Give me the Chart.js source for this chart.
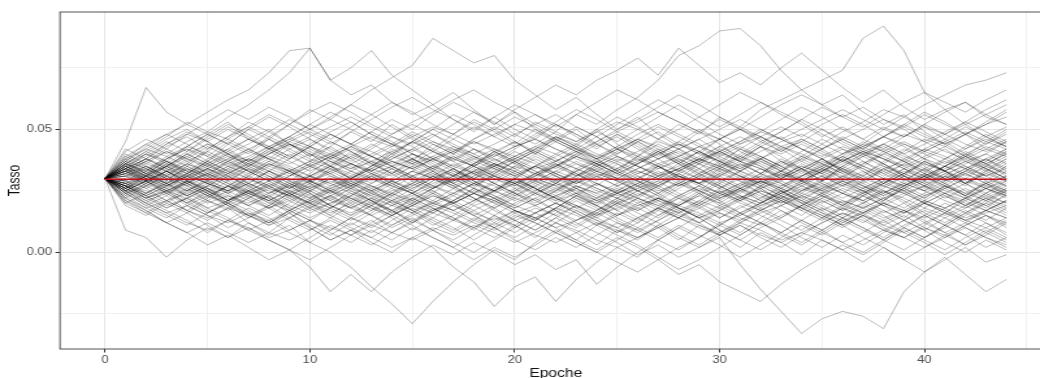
<!DOCTYPE html>
<html>
<head>
<meta charset="utf-8">
<script src="https://cdn.jsdelivr.net/npm/chart.js@4.4.1/dist/chart.umd.min.js"></script>
<style>
  html, body { margin: 0; padding: 0; background: #fff; overflow: hidden; }
  /* the reference is stretched sideways, so the canvas is too */
  #wrap { width: 812px; height: 378px; transform: scaleX(1.3); transform-origin: 0 0; }
</style>
</head>
<body>
<div id="wrap"><canvas id="chart" width="812" height="378"></canvas></div>
<script>
// x values
const epochs = [0,1,2,3,4,5,6,7,8,9,10,11,12,13,14,15,16,17,18,19,20,21,22,23,24,25,26,27,28,29,30,31,32,33,34,35,36,37,38,39,40,41,42,43,44];

// simulated rate paths, in thousandths (30 = 0.030)
const paths = [
  [30,35,31,38,42,37,44,40,46,41,37,43,49,45,52,47,42,48,54,50,45,40,47,43,50,44,39,46,52,48,55,51,58,62,66,70,74,87,92,82,65,58,61,55,52],
  [30,26,31,28,34,30,25,31,36,33,28,34,39,35,41,37,44,40,46,51,47,53,49,56,52,58,63,70,80,84,90,91,84,74,66,60,64,57,52,56,49,44,48,42,46],
  [30,45,67,57,52,48,53,46,50,44,39,45,41,36,42,38,33,39,35,41,37,31,36,32,27,33,29,35,30,25,31,36,32,38,34,29,35,40,36,31,37,33,28,34,30],
  [30,38,44,48,52,57,62,66,73,82,83,70,64,68,61,56,60,54,49,55,50,46,52,47,42,48,44,39,45,41,36,42,38,33,39,35,30,36,41,37,32,38,34,29,35],
  [30,36,41,37,43,48,44,50,46,52,58,54,60,66,71,76,87,82,77,80,70,64,58,63,56,50,55,48,43,49,44,38,43,37,32,38,33,28,34,30,25,31,27,33,29],
  [30,24,19,23,17,13,18,12,7,11,4,0,-6,-14,-21,-29,-20,-12,-5,1,-3,4,9,5,11,16,12,18,14,20,25,21,27,23,29,24,19,25,21,27,32,28,23,29,25],
  [30,25,29,24,20,25,21,27,23,18,24,19,15,21,17,12,18,14,9,15,11,6,12,8,3,9,5,11,6,2,6,-5,-15,-24,-33,-27,-24,-26,-31,-16,-8,-3,2,-4,-1],
  [30,27,22,26,21,16,20,15,11,16,10,5,9,4,0,6,2,-6,-12,-22,-14,-10,-20,-11,-4,2,-2,5,10,6,12,8,14,19,15,21,17,23,19,14,20,16,22,18,24],
  [30,33,28,24,29,25,31,27,22,28,24,19,25,21,16,22,18,13,19,15,10,16,12,17,13,8,14,10,5,11,7,2,8,4,-1,5,1,-4,2,-3,-8,-2,-9,-16,-11],
  [30,9,6,-2,5,10,6,12,8,14,19,15,21,17,23,28,24,30,26,32,37,33,28,34,30,36,31,26,32,28,34,39,35,30,36,32,38,33,28,34,29,35,40,36,31],
  [30,36,33,39,35,41,46,42,38,44,40,35,41,37,32,38,34,40,45,41,36,42,47,43,38,33,39,35,30,36,41,37,43,39,34,29,35,31,37,42,38,33,39,35,41],
  [30,27,22,25,20,16,21,26,22,17,13,18,23,19,24,29,33,28,24,20,25,30,27,31,36,32,27,23,28,24,19,15,20,25,21,26,31,28,24,29,34,30,25,21,26],
  [30,34,40,45,41,47,52,48,43,39,44,49,53,48,44,38,34,29,33,28,24,29,25,31,36,40,45,49,44,40,46,51,47,42,37,33,38,43,47,52,48,44,39,45,50],
  [30,23,18,14,19,15,10,14,19,24,20,15,11,16,21,17,12,8,13,18,22,27,23,19,14,10,6,11,16,12,17,22,26,21,17,13,18,14,9,13,18,23,19,15,11],
  [30,32,37,33,28,24,29,34,31,27,32,38,43,39,35,30,26,31,36,41,37,33,29,24,20,25,30,35,31,27,22,26,31,36,41,46,42,37,33,29,34,38,43,48,44],
  [30,28,33,38,43,48,44,50,55,51,46,41,37,42,47,43,38,34,29,25,30,26,21,26,31,27,23,28,33,38,43,39,44,49,54,50,45,41,36,32,37,33,28,24,20],
  [30,25,29,34,30,25,20,16,12,17,13,9,14,19,24,28,33,29,34,30,26,21,17,22,18,13,9,5,10,15,11,16,20,25,21,17,12,16,21,26,22,27,32,28,23],
  [30,39,35,31,36,42,47,53,49,44,40,35,30,34,39,45,50,56,52,47,43,48,53,58,54,49,45,40,36,41,37,32,28,33,38,34,39,44,50,55,51,46,42,47,43],
  [30,31,26,21,17,22,27,23,28,24,29,25,20,15,19,24,29,34,30,35,31,26,22,18,14,19,24,20,16,21,26,31,27,23,18,14,10,15,20,17,13,8,12,17,21],
  [30,34,29,35,40,36,31,26,31,27,22,18,23,28,33,29,25,20,24,29,35,40,45,41,36,41,46,51,47,43,38,34,39,35,30,25,29,25,20,16,21,26,30,35,39],
  [30,20,24,28,23,18,14,9,13,8,4,9,14,10,15,11,6,2,7,12,17,13,18,23,19,14,10,15,20,25,21,16,12,8,13,9,4,8,13,17,12,8,3,7,12],
  [30,41,46,42,48,53,58,54,59,55,50,46,51,56,61,57,52,48,53,49,44,50,46,42,47,52,57,62,58,53,48,44,49,54,59,55,50,46,51,47,52,57,61,56,60],
  [30,28,24,29,35,31,37,33,29,25,21,26,22,18,14,9,14,10,5,10,15,12,8,4,0,5,10,6,11,7,3,-2,3,8,4,9,14,19,15,10,6,11,7,2,6],
  [30,33,38,34,39,44,40,35,40,45,49,45,41,36,32,27,31,36,32,28,33,38,34,39,44,48,43,38,42,46,41,37,32,37,33,28,24,29,34,30,26,31,36,40,45],
  [30,26,31,27,32,28,24,19,15,20,25,21,26,31,27,33,38,34,29,25,30,35,31,26,22,17,13,18,14,19,24,28,24,20,25,30,34,29,25,20,15,11,16,20,25],
  [30,37,32,28,23,27,32,37,42,38,43,48,44,39,35,40,36,31,27,32,37,41,46,51,47,42,37,41,36,31,35,40,45,41,46,42,37,42,47,52,57,53,48,53,58],
  [30,24,28,33,29,24,20,25,21,16,11,7,12,8,13,18,14,19,15,10,6,11,16,21,17,22,27,23,18,14,9,5,1,6,11,7,12,17,13,8,4,-1,4,9,5],
  [30,35,40,36,32,37,33,38,43,47,52,57,53,48,44,49,45,41,46,50,55,51,46,42,38,33,37,42,38,34,29,33,38,43,39,44,49,53,58,55,60,64,68,70,73],
  [30,29,34,30,26,21,25,30,26,31,36,32,27,23,28,24,19,23,28,33,29,25,30,26,21,17,22,27,32,28,33,29,24,20,24,29,25,21,26,31,27,32,28,23,27],
  [30,22,27,23,29,34,30,25,21,26,31,35,30,26,22,17,13,9,14,10,5,1,6,2,7,12,8,13,18,14,9,5,10,14,19,15,11,6,2,-3,2,7,3,8,4],
  [30,36,41,46,50,45,40,44,49,54,50,55,60,56,51,46,41,37,42,38,34,39,35,40,45,50,54,59,64,60,55,50,46,41,45,50,46,42,47,51,56,52,48,44,49],
  [30,27,31,35,30,34,38,33,29,34,29,25,30,35,40,36,41,37,32,28,24,20,25,30,35,31,36,41,37,32,27,22,26,21,17,22,18,23,28,32,28,24,19,24,29],
  [30,19,15,20,16,21,17,22,27,23,18,14,10,6,11,16,21,26,22,17,13,9,14,19,15,20,16,12,7,3,8,13,18,23,19,24,20,16,11,15,10,6,11,15,10],
  [30,33,29,33,38,43,39,34,30,26,30,35,39,44,40,45,50,46,42,37,42,47,52,48,44,39,35,31,36,32,37,42,47,51,47,52,56,52,47,43,38,42,37,33,38],
  [30,25,20,25,29,25,21,17,12,17,22,27,31,27,23,19,24,20,15,11,16,12,8,13,17,22,18,14,19,24,29,25,21,17,12,8,13,9,5,10,15,20,16,21,17],
  [30,38,34,29,35,31,27,32,37,42,46,42,38,43,48,52,48,43,39,34,30,35,40,44,49,45,50,55,60,55,51,56,61,57,53,48,44,40,36,41,46,43,48,52,57],
  [30,32,27,32,28,33,29,24,28,24,19,23,19,24,29,25,31,27,22,18,23,28,24,29,34,30,25,21,26,30,26,22,27,32,28,33,38,34,30,26,31,27,23,28,33],
  [30,26,21,17,13,8,13,9,5,1,6,11,7,12,17,22,18,14,10,15,20,24,20,16,11,7,3,-2,-7,-3,2,7,12,8,13,18,14,10,5,1,6,10,15,20,16],
  [30,40,36,41,37,32,37,42,38,33,29,34,30,35,40,45,41,46,51,47,52,56,52,48,43,47,42,38,33,37,41,45,50,46,42,38,33,37,32,36,41,45,40,44,48],
  [30,29,24,20,25,30,35,31,36,32,28,24,29,25,20,16,11,15,20,25,30,26,22,27,23,19,14,18,23,27,32,36,32,28,23,19,15,20,25,21,16,12,17,13,18],
  [30,34,30,26,31,36,32,28,33,29,34,39,35,30,26,21,26,31,36,32,28,23,28,33,29,34,39,44,40,36,31,27,32,37,34,29,34,39,44,40,35,30,34,38,33],
  [30,21,17,12,16,11,6,10,5,1,-3,2,7,3,8,13,9,4,0,5,10,14,10,5,1,6,2,-3,2,6,11,16,12,7,3,8,4,0,5,10,6,11,16,12,7],
  [30,37,43,48,44,39,45,41,47,52,48,44,49,54,59,63,58,54,50,55,60,56,51,56,61,66,62,57,53,49,54,50,45,49,54,59,55,51,56,61,65,61,57,62,66],
  [30,31,35,31,27,23,27,22,18,23,28,33,29,25,21,26,30,26,31,36,41,37,32,28,33,29,25,29,24,20,25,21,17,22,27,31,27,32,36,31,27,23,19,24,28],
  [30,24,19,15,11,16,20,15,19,24,20,25,21,26,30,35,31,27,22,18,13,9,14,10,15,20,25,21,17,12,7,12,17,13,9,14,19,24,29,25,20,16,21,26,22],
  [30,35,31,36,41,46,51,47,42,38,43,38,34,39,43,48,44,40,36,41,45,41,37,42,38,43,48,52,48,44,39,35,30,26,31,35,40,45,41,37,42,46,51,47,43],
  [30,28,23,27,31,26,21,25,20,24,28,23,18,22,17,12,16,21,17,12,8,13,18,23,28,24,20,15,19,24,20,25,29,25,20,16,11,15,10,6,11,16,12,8,13],
  [30,33,37,42,38,34,30,35,31,26,31,36,40,36,32,37,33,28,33,38,34,30,35,40,36,32,36,41,45,50,46,41,37,33,37,42,47,43,39,35,31,35,40,36,32],
  [30,26,30,25,20,24,19,14,18,13,9,14,19,15,10,14,9,5,10,6,11,16,20,16,12,8,12,17,22,18,14,19,15,11,6,2,7,3,8,13,9,4,0,5,1],
  [30,42,38,44,49,45,40,35,40,44,39,43,38,33,38,42,47,52,57,53,48,44,49,45,50,55,51,46,50,55,60,65,61,56,52,47,51,46,42,47,52,48,53,58,62],
  [30,30,35,30,25,29,34,30,35,40,35,31,27,32,28,24,29,33,29,24,28,32,28,33,37,33,29,24,29,25,21,26,22,27,31,36,32,27,23,27,31,26,22,27,31],
  [30,23,28,33,28,24,19,23,18,22,26,30,25,21,16,20,24,19,15,19,24,19,15,11,16,21,17,22,27,31,27,23,18,14,19,23,28,24,19,23,27,22,26,22,18],
  [30,36,32,37,33,29,24,28,33,38,43,48,44,49,45,40,35,39,35,40,45,40,36,31,35,30,34,38,42,37,42,38,43,47,42,38,33,29,33,38,34,29,33,37,41],
  [30,27,32,37,32,37,42,37,33,28,24,19,15,19,15,20,25,21,26,22,17,13,18,23,19,24,28,33,29,34,30,26,21,25,20,24,29,33,28,32,37,33,28,33,37],
  [30,20,16,21,26,22,27,23,19,14,10,5,9,13,8,12,17,21,26,22,18,22,17,12,8,4,-1,3,-2,2,7,11,6,2,7,12,16,12,17,13,9,14,10,6,2],
  [30,34,38,43,47,42,47,51,56,52,57,61,57,52,48,53,57,62,66,61,57,52,56,51,47,42,46,42,37,41,46,50,55,60,64,60,55,59,54,50,45,49,53,49,45],
  [30,29,33,28,32,37,33,28,24,29,25,30,26,21,17,21,26,30,35,31,27,32,36,32,28,24,28,24,19,23,28,33,37,33,29,25,30,26,22,26,30,35,39,34,30],
  [30,25,29,24,28,23,27,31,27,22,18,23,27,22,26,31,27,32,28,23,19,24,28,24,19,15,20,24,28,32,28,24,29,25,29,33,29,25,21,26,22,27,23,28,24],
  [30,35,30,35,39,35,40,36,41,37,33,37,33,29,34,30,35,31,36,40,36,32,37,41,37,42,38,34,38,34,39,43,39,35,31,35,39,35,40,44,40,36,41,37,42],
  [30,26,22,18,22,26,21,25,29,24,20,16,20,25,29,25,21,17,21,26,30,26,22,18,22,27,31,27,23,19,14,18,22,26,22,18,14,18,22,18,23,27,23,19,23],
  [30,37,42,47,53,49,55,60,66,73,83,70,75,82,72,66,60,65,58,52,57,50,45,50,44,40,45,41,36,41,37,33,38,34,29,34,39,35,31,36,32,28,33,38,34],
  [30,34,30,35,40,36,41,46,42,47,52,48,44,49,54,50,56,61,57,52,58,63,68,64,70,74,79,72,83,76,69,73,68,75,81,74,67,61,66,59,54,58,52,47,51],
  [30,22,17,12,8,3,7,2,-3,1,-6,-16,-9,-16,-8,-2,3,-1,4,0,-5,-1,-7,-3,-13,-6,0,5,1,6,11,7,12,17,13,9,14,10,6,11,15,11,7,12,8],
  [30,27,23,18,22,17,13,18,14,9,13,8,4,9,5,10,6,2,-3,2,-2,3,8,4,0,-4,-8,-3,-9,-5,-12,-16,-20,-13,-7,-2,3,-1,4,9,5,1,6,10,6],
  [30,33,27,31,36,32,29,34,38,35,31,28,33,37,34,30,26,29,33,30,27,31,35,39,36,32,29,25,28,32,36,33,29,26,30,34,31,27,24,28,32,29,33,30,27],
  [30,27,24,28,25,21,18,22,26,23,27,31,28,24,21,17,20,24,21,25,29,26,22,19,15,18,22,19,23,27,24,20,17,21,25,28,24,21,25,22,18,15,19,23,20],
  [30,34,38,35,40,44,41,37,42,46,43,39,36,40,44,41,45,42,38,35,39,43,40,36,33,37,41,45,42,38,41,45,49,46,42,39,43,40,44,48,45,41,38,42,39],
  [30,25,21,24,19,15,12,16,13,17,21,18,14,11,15,19,23,20,16,13,17,14,10,13,17,21,25,22,18,15,19,23,20,24,28,25,21,18,14,17,21,18,22,26,23],
  [30,32,29,33,30,34,31,27,30,26,29,33,36,32,28,31,35,32,28,25,28,32,35,31,34,38,35,31,27,30,34,30,26,29,33,37,34,30,27,31,28,32,35,31,34],
  [30,36,40,37,33,38,42,46,43,39,35,32,36,33,29,26,30,34,38,42,39,43,47,44,40,37,33,30,34,38,35,39,36,32,29,33,37,41,38,34,31,35,39,43,40],
  [30,26,29,25,22,26,23,20,24,28,25,21,18,22,19,16,20,17,21,25,22,19,23,27,24,20,23,27,31,28,24,21,25,22,18,22,26,23,19,16,20,24,21,17,14],
  [30,33,37,41,38,35,39,36,32,28,31,27,30,34,31,35,39,43,40,36,32,35,31,28,32,29,25,28,32,36,33,37,34,30,34,38,42,39,35,32,36,33,29,26,30],
  [30,28,32,29,25,29,33,30,26,23,27,24,28,32,35,31,27,24,28,25,21,25,29,32,28,24,27,31,34,30,27,23,20,24,28,31,27,24,28,32,29,25,22,26,29],
  [30,35,32,28,32,36,40,37,41,45,42,38,42,39,35,31,34,38,35,39,43,46,42,38,35,39,36,40,44,41,37,34,38,42,45,41,37,41,38,34,30,33,37,34,38],
  [30,24,20,16,19,23,19,15,12,16,20,17,13,17,21,24,20,17,13,10,14,18,15,19,16,12,9,13,17,21,18,14,11,15,19,23,19,16,20,24,20,17,13,16,19],
  [30,31,34,30,27,31,35,32,36,33,29,32,28,25,29,33,30,26,30,34,31,35,32,28,31,27,30,34,37,33,30,26,29,33,30,27,31,35,32,28,25,29,32,28,31],
  [30,37,34,38,42,39,35,38,34,31,35,39,43,47,44,40,37,41,45,42,38,34,37,41,38,42,46,43,39,36,40,37,41,45,48,44,40,43,47,44,41,45,49,45,42],
  [30,27,23,19,22,18,21,25,22,18,14,18,22,19,15,19,16,20,24,21,17,14,17,13,16,20,17,21,18,14,18,22,19,23,20,16,13,16,20,17,14,18,22,19,15],
  [30,34,31,27,31,28,32,36,33,29,26,30,27,31,35,38,34,31,27,31,35,32,29,33,37,34,30,27,31,28,24,28,32,29,25,29,33,30,34,37,33,30,34,31,27],
  [30,29,26,30,34,31,27,24,21,25,22,26,30,27,23,27,31,28,24,21,25,29,33,30,26,23,26,30,27,31,35,31,28,24,27,23,20,24,28,25,29,33,30,26,23],
  [30,36,33,37,34,30,34,38,35,32,36,40,36,33,37,34,30,27,31,35,39,36,32,29,33,30,34,38,41,37,34,38,35,31,35,32,36,40,43,39,36,33,37,40,36],
  [30,26,22,25,29,25,21,24,20,17,21,25,28,24,20,23,27,23,19,22,26,30,27,23,20,24,21,17,14,18,22,26,23,19,23,27,24,20,16,20,24,28,24,21,25],
  [30,32,36,33,29,32,28,25,29,33,37,40,36,32,29,33,30,34,30,27,23,27,31,27,24,28,32,35,31,28,32,29,26,30,34,38,34,31,35,31,27,24,28,32,36],
  [30,28,31,35,32,28,25,28,24,27,31,28,24,21,25,28,32,29,33,36,33,29,26,29,25,22,26,29,33,30,26,30,34,31,27,24,27,31,27,24,27,31,28,32,29],
  [30,34,29,25,28,32,28,24,27,23,20,23,27,31,27,24,28,31,35,31,28,24,21,24,28,25,29,26,22,19,23,26,30,33,29,26,22,26,30,27,31,27,24,28,25],
  [30,38,42,39,43,40,36,39,43,47,43,40,44,41,37,34,38,42,39,35,38,42,46,42,39,43,40,36,39,43,40,44,47,43,40,36,40,44,41,45,41,38,42,46,43],
  [30,22,18,21,17,14,18,15,11,14,18,22,18,15,11,15,19,16,12,9,13,16,20,17,13,10,14,18,15,12,16,13,17,21,18,14,18,15,11,8,12,16,13,17,14],
  [30,31,28,32,36,33,37,41,38,34,31,35,32,28,32,36,39,35,32,36,33,29,33,37,33,30,27,31,34,38,35,31,28,32,29,33,37,34,30,34,38,35,31,35,32],
  [30,35,39,44,48,45,50,46,42,46,50,54,50,46,43,47,51,48,44,48,52,49,45,41,45,49,53,57,53,49,46,50,47,43,46,42,46,50,54,51,47,44,48,52,55],
  [30,25,20,16,12,9,13,10,6,9,13,10,7,11,8,5,9,13,10,14,11,7,4,8,12,9,6,10,14,11,8,12,9,5,8,12,16,13,9,6,10,7,11,15,12],
  [30,33,30,26,23,27,31,35,39,36,40,37,33,30,34,38,42,38,35,31,28,31,35,39,36,32,36,40,44,40,37,33,30,27,31,34,30,27,23,27,31,35,32,36,40],
  [30,28,25,21,24,28,25,29,33,30,26,22,26,23,19,22,26,30,26,23,19,16,20,24,21,25,22,18,22,26,23,27,31,28,24,21,17,20,24,28,25,21,18,22,26],
  [30,36,32,35,31,34,38,42,46,42,38,35,31,35,39,36,32,28,32,35,31,35,39,43,39,36,32,36,33,37,41,37,34,30,34,31,35,39,42,38,42,39,35,31,35],
  [30,24,27,31,27,23,20,24,21,25,29,25,22,18,15,19,23,20,24,28,24,21,25,29,26,22,19,22,18,14,17,21,25,22,26,23,19,23,27,24,20,24,20,17,21],
  [30,33,29,33,37,41,37,33,37,33,29,26,29,33,37,34,38,41,37,34,38,42,38,34,31,34,38,35,31,28,31,35,38,34,38,42,46,42,38,35,39,43,39,36,40],
  [30,27,31,28,24,20,23,19,23,27,23,19,16,20,24,21,17,21,25,22,18,22,26,22,19,15,18,22,19,23,20,16,20,24,21,17,21,18,22,25,21,18,14,17,21],
  [30,39,44,40,45,49,46,51,47,43,47,51,55,51,47,44,48,44,40,44,48,52,48,45,49,53,50,46,42,46,50,54,50,46,50,54,58,54,50,47,51,48,52,56,52],
  [30,21,16,12,8,12,8,4,8,5,9,13,9,6,2,6,10,7,11,8,4,8,12,9,5,2,6,10,14,10,7,11,7,4,8,5,1,5,9,6,2,6,10,6,3],
  [30,32,35,31,28,32,36,33,29,33,37,34,30,34,38,42,38,35,39,36,32,28,32,36,32,29,33,30,34,38,34,31,27,31,35,32,28,25,29,33,30,34,38,34,30],
  [30,26,30,27,23,27,24,28,25,21,25,29,26,30,27,24,20,24,28,31,28,24,28,25,21,24,28,32,28,25,22,25,29,26,22,26,29,26,30,27,23,26,30,27,24],
  [30,35,31,36,33,29,26,30,27,31,35,39,43,39,36,40,37,33,30,33,37,41,37,34,38,42,39,35,39,43,46,42,39,35,39,36,32,36,40,37,33,37,34,38,42],
  [30,27,23,27,31,28,25,21,18,21,17,20,24,20,17,13,17,20,24,20,16,19,23,26,22,26,22,19,16,20,16,12,16,19,23,20,24,21,17,13,17,14,18,22,19],
  [30,34,38,34,31,35,32,36,40,44,41,37,34,37,41,45,41,38,42,39,43,46,42,39,35,39,35,32,35,39,43,47,43,40,44,40,37,41,44,40,44,48,44,41,45],
  [30,25,29,33,29,26,22,19,23,19,16,20,23,27,24,20,16,13,17,21,17,14,18,15,11,15,19,22,19,16,12,15,19,22,18,15,11,15,12,16,20,17,13,10,14]
];

// mean of the paths (red line), in thousandths
const meanRate = [29.7,29.7,29.7,29.7,29.7,29.7,29.7,29.7,29.7,29.7,29.7,29.7,29.7,29.7,29.7,29.7,29.7,29.7,29.7,29.7,29.7,29.7,29.7,29.7,29.7,29.7,29.7,29.7,29.7,29.7,29.7,29.7,29.7,29.7,29.7,29.7,29.7,29.7,29.7,29.7,29.7,29.7,29.7,29.7,29.7];

// grid / tick positions
const xTicks = [0,5,10,15,20,25,30,35,40,45];
const yTicks = [-0.025,0,0.025,0.05,0.075];

const isMajorX = v => Math.abs(v % 10) < 1e-9;
const isMajorY = v => Math.abs(Math.round(v / 0.05) * 0.05 - v) < 1e-9;

const datasets = paths.map(function(p) {
    return {
        data: p.map((v, i) => ({ x: epochs[i], y: v / 1000 })),
        borderColor: 'rgba(0,0,0,0.27)',
        borderWidth: 1,
        pointRadius: 0,
        tension: 0,
        order: 1
    };
});
datasets.unshift({
    data: meanRate.map((v, i) => ({ x: epochs[i], y: v / 1000 })),
    borderColor: '#c8101a',
    borderWidth: 1.3,
    pointRadius: 0,
    tension: 0,
    order: 0
});

const panelBorder = {
    id: 'panelBorder',
    afterDraw(chart) {
        const { ctx, chartArea: a } = chart;
        ctx.save();
        ctx.strokeStyle = '#555';
        ctx.lineWidth = 1;
        ctx.strokeRect(a.left, a.top, a.right - a.left, a.bottom - a.top);
        ctx.restore();
    }
};

const font = 'Liberation Sans, Arial, sans-serif';

new Chart(document.getElementById('chart').getContext('2d'), {
    type: 'line',
    data: { datasets: datasets },
    plugins: [panelBorder],
    options: {
        responsive: false,
        animation: false,
        events: [],
        layout: { padding: { top: 12, right: 3.2, bottom: 0, left: 0 } },
        plugins: { legend: { display: false }, tooltip: { enabled: false } },
        scales: {
            x: {
                type: 'linear',
                min: -2.2,
                max: 46.2,
                afterBuildTicks: s => { s.ticks = xTicks.map(v => ({ value: v })); },
                afterFit: s => { s.height = 29; },
                border: { display: false },
                grid: {
                    color: c => isMajorX(c.tick.value) ? '#e6e6e6' : '#f1f1f1',
                    tickColor: c => isMajorX(c.tick.value) ? '#333' : 'rgba(0,0,0,0)',
                    tickLength: 3.5,
                    lineWidth: 1
                },
                ticks: {
                    autoSkip: false,
                    maxRotation: 0,
                    padding: 2,
                    color: '#4d4d4d',
                    font: { family: font, size: 10 },
                    callback: v => isMajorX(v) ? String(v) : ''
                },
                title: {
                    display: true,
                    text: 'Epoche',
                    color: '#111',
                    font: { family: font, size: 12, lineHeight: 1 },
                    padding: { top: 0, bottom: -1.5 }
                }
            },
            y: {
                type: 'linear',
                min: -0.0393,
                max: 0.0977,
                afterBuildTicks: s => { s.ticks = yTicks.map(v => ({ value: v })); },
                afterFit: s => { s.width = 46.15; },
                border: { display: false },
                grid: {
                    color: c => isMajorY(c.tick.value) ? '#e6e6e6' : '#f1f1f1',
                    tickColor: c => isMajorY(c.tick.value) ? '#333' : 'rgba(0,0,0,0)',
                    tickLength: 3.5,
                    lineWidth: 1
                },
                ticks: {
                    autoSkip: false,
                    padding: 2.7,
                    color: '#4d4d4d',
                    font: { family: font, size: 10 },
                    callback: v => isMajorY(v) ? v.toFixed(2) : ''
                },
                title: {
                    display: true,
                    text: 'Tasso',
                    color: '#111',
                    font: { family: font, size: 12, lineHeight: 1 },
                    padding: { top: 6, bottom: 0 }
                }
            }
        }
    }
});
</script>
</body>
</html>
